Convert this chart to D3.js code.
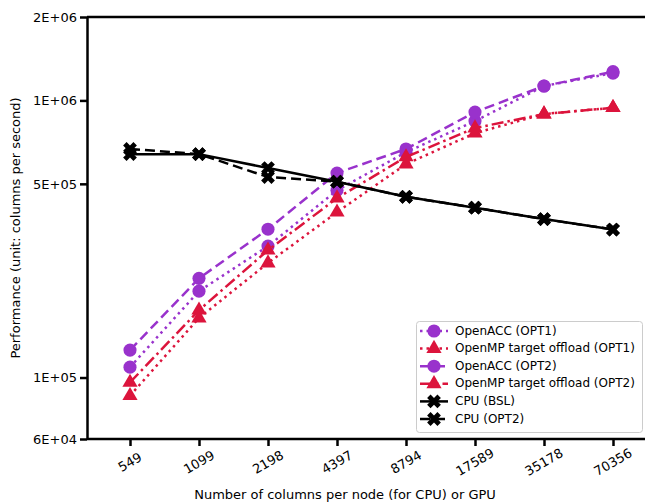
<!DOCTYPE html>
<html lang="en">
<head>
<meta charset="UTF-8">
<title>Performance chart</title>
<style>
	body { margin: 0; background: #fff; font-family: "DejaVu Sans", sans-serif; }
	svg text { font-family: "DejaVu Sans", sans-serif; fill: #000; }
</style>
<script src="https://d3js.org/d3.v7.min.js"></script>
</head>
<body>
<svg id="chart" width="645" height="503"></svg>
<script>
	// category labels on the x axis
	const columns = ["549", "1099", "2198", "4397", "8794", "17589", "35178", "70356"];
	const yTicks = [6e4, 1e5, 5e5, 1e6, 2e6];

	// values (columns per second)
	const accOpt1 = [109000, 205000, 298000, 474000, 650000, 842000, 1127000, 1255000];
	const ompOpt1 = [86000, 164000, 259000, 395000, 589000, 762000, 893000, 941000];
	const accOpt2 = [125600, 228000, 343000, 547000, 668000, 908000, 1127000, 1270000];
	const ompOpt2 = [96000, 175000, 288000, 444000, 625000, 795000, 893000, 941000];
	const cpuBsl = [640000, 640000, 570000, 509000, 449000, 410000, 373000, 342000];
	const cpuOpt2 = [668000, 640000, 529000, 509000, 449000, 410000, 373000, 342000];

	const series = [
		{ name: "OpenACC (OPT1)", values: accOpt1, color: "#9932cc", dash: "2.5,4", marker: "circle" },
		{ name: "OpenMP target offload (OPT1)", values: ompOpt1, color: "#dc143c", dash: "2.5,4", marker: "triangle" },
		{ name: "OpenACC (OPT2)", values: accOpt2, color: "#9932cc", dash: "10,5", marker: "circle" },
		{ name: "OpenMP target offload (OPT2)", values: ompOpt2, color: "#dc143c", dash: "12,4,2.5,4", marker: "triangle" },
		{ name: "CPU (BSL)", values: cpuBsl, color: "#000", dash: null, marker: "x" },
		{ name: "CPU (OPT2)", values: cpuOpt2, color: "#000", dash: "10,5", marker: "x" }
	];

	var margin = { top: 17, left: 87 },
		width = 645 - margin.left + 5,
		height = 439 - margin.top;

	var svg = d3.select("#chart");
	var g = svg.append("g")
		.attr("transform", "translate(" + margin.left + "," + margin.top + ")");

	var x = d3.scalePoint()
		.domain(columns)
		.range([43, 526]);

	var y = d3.scaleLog()
		.domain([6e4, 2e6])
		.range([height, 0]);

	// thick filled "X", like the matplotlib marker
	var symbolX = {
		draw (context, size) {
			var s = Math.sqrt(size);
			var pts = [[-0.25, -0.5], [0, -0.25], [0.25, -0.5], [0.5, -0.25], [0.25, 0], [0.5, 0.25],
				[0.25, 0.5], [0, 0.25], [-0.25, 0.5], [-0.5, 0.25], [-0.25, 0], [-0.5, -0.25]];
			pts.forEach((p, i) => i ? context.lineTo(p[0] * s, p[1] * s) : context.moveTo(p[0] * s, p[1] * s));
			context.closePath();
		}
	};

	function markerPath (type) {
		if (type === "circle") return d3.symbol(d3.symbolCircle, 135)();
		if (type === "triangle") return d3.symbol(d3.symbolTriangle, 100)();
		return d3.symbol(symbolX, 190)();
	}

	function drawMarker (sel, s) {
		sel.attr("d", markerPath(s.marker))
			.attr("fill", s.color);
	}

	var line = d3.line()
		.x((d, i) => x(columns[i]))
		.y(d => y(d));

	// series
	series.forEach(s => {
		var sg = g.append("g");
		sg.append("path")
			.datum(s.values)
			.attr("d", line)
			.attr("fill", "none")
			.attr("stroke", s.color)
			.attr("stroke-width", 2.5)
			.attr("stroke-dasharray", s.dash);
		sg.selectAll("path.m")
			.data(s.values)
			.join("path")
			.attr("class", "m")
			.attr("transform", (d, i) => "translate(" + x(columns[i]) + "," + y(d) + ")")
			.call(drawMarker, s);
	});

	// axes
	var xAxis = d3.axisBottom(x).tickSize(7).tickSizeOuter(0);
	var xg = g.append("g")
		.attr("transform", "translate(0," + height + ")")
		.call(xAxis);
	xg.select(".domain").attr("d", "M0,0H" + width);
	xg.selectAll(".tick text")
		.attr("y", 0).attr("dy", 0)
		.attr("text-anchor", "middle")
		.attr("transform", "translate(0,24) rotate(-30)")
		.attr("dominant-baseline", "middle");

	var yAxis = d3.axisLeft(y)
		.tickValues(yTicks)
		.tickFormat(d => d3.format(".0e")(d).replace("e+", "E+0").toUpperCase())
		.tickSize(7).tickSizeOuter(0);
	var yg = g.append("g").call(yAxis);

	// top spine
	g.append("line")
		.attr("x1", 0).attr("x2", width)
		.attr("y1", 0).attr("y2", 0)
		.attr("stroke", "#000").attr("stroke-width", 2.5);

	[xg, yg].forEach(a => {
		a.select(".domain").attr("stroke-width", 2.5);
		a.selectAll(".tick line").attr("stroke-width", 2.5);
		a.selectAll(".tick text").style("font-size", "13px");
	});
	yg.selectAll(".tick text").attr("x", -10);

	svg.append("text")
		.attr("transform", "translate(16," + (margin.top + height / 2) + ") rotate(-90)")
		.attr("text-anchor", "middle")
		.attr("dominant-baseline", "middle")
		.style("font-size", "13px")
		.text("Performance (unit: columns per second)");

	svg.append("text")
		.attr("x", 345).attr("y", 495)
		.attr("text-anchor", "middle")
		.attr("dominant-baseline", "middle")
		.style("font-size", "13px")
		.text("Number of columns per node (for CPU) or GPU");

	// legend
	var lg = svg.append("g").attr("transform", "translate(416,321)");
	lg.append("rect")
		.attr("x", 0.5).attr("y", 0.5)
		.attr("width", 226).attr("height", 111)
		.attr("rx", 3)
		.attr("fill", "#fff")
		.attr("stroke", "#ccc")
		.attr("stroke-width", 1);
	series.forEach((s, i) => {
		var row = lg.append("g").attr("transform", "translate(0," + (10 + i * 17.6) + ")");
		row.append("line")
			.attr("x1", 4).attr("x2", 32)
			.attr("stroke", s.color)
			.attr("stroke-width", 2.5)
			.attr("stroke-dasharray", s.dash);
		row.append("path")
			.attr("transform", "translate(18,0)")
			.call(drawMarker, s);
		row.append("text")
			.attr("x", 39)
			.attr("dominant-baseline", "middle")
			.style("font-size", "12px")
			.text(s.name);
	});
</script>
</body>
</html>
